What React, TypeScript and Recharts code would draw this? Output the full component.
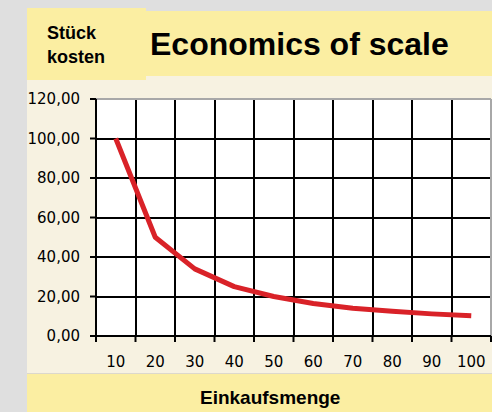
import { CartesianGrid, Line, LineChart, ReferenceLine, XAxis, YAxis } from 'recharts';

const quantities = [10, 20, 30, 40, 50, 60, 70, 80, 90, 100];
const unitCosts = [100, 50, 34, 25, 20, 16.5, 14, 12.5, 11.2, 10.3];
const yTicks = [0, 20, 40, 60, 80, 100, 120];
// Gitterlinien liegen zwischen den Kategorien
const gridTicks = [5, 15, 25, 35, 45, 55, 65, 75, 85, 95, 105];

const data = quantities.map((q, i) => ({ cost: unitCosts[i], q }));

const GRAY = '#dfdfdf';
const YELLOW = '#fbeea2';
const BEIGE = '#f7f2e1';
const RED = '#d92228';
const TICK_FONT = "'DejaVu Sans', sans-serif";
const LABEL_FONT = "'Liberation Sans', Arial, sans-serif";

const formatCost = (v: number): string => v.toFixed(2).replace('.', ',');

export default function App() {
  return (
    <div
      style={{
        background: GRAY,
        height: 412,
        left: 0,
        overflow: 'hidden',
        position: 'fixed',
        top: 0,
        width: 492,
      }}
    >
      {/* Plotbereich-Hintergrund */}
      <div style={{ background: BEIGE, height: 297, left: 27, position: 'absolute', top: 76, width: 465 }} />

      {/* Titelbalken */}
      <div style={{ background: YELLOW, height: 65, left: 146, position: 'absolute', top: 11, width: 346 }} />
      <div
        style={{
          color: '#000',
          fontFamily: LABEL_FONT,
          fontSize: 32,
          fontWeight: 700,
          left: 150,
          lineHeight: '32px',
          position: 'absolute',
          top: 28,
          whiteSpace: 'nowrap',
        }}
      >
        Economics of scale
      </div>

      {/* Achsentitel Y */}
      <div style={{ background: YELLOW, height: 72, left: 27, position: 'absolute', top: 8, width: 119 }} />
      <div
        style={{
          color: '#000',
          fontFamily: LABEL_FONT,
          fontSize: 18,
          fontWeight: 700,
          left: 47,
          lineHeight: '24px',
          position: 'absolute',
          top: 21,
        }}
      >
        Stück
        <br />
        kosten
      </div>

      {/* Fußzeile mit Achsentitel X */}
      <div
        style={{
          background: YELLOW,
          borderTop: '1px solid #dcd8cc',
          height: 38,
          left: 27,
          position: 'absolute',
          top: 373,
          width: 465,
        }}
      />
      <div
        style={{
          color: '#000',
          fontFamily: LABEL_FONT,
          fontSize: 19,
          fontWeight: 700,
          left: 200,
          lineHeight: '20px',
          position: 'absolute',
          top: 388,
          whiteSpace: 'nowrap',
        }}
      >
        Einkaufsmenge
      </div>

      <div style={{ left: 27, position: 'absolute', top: 76 }}>
        <LineChart data={data} height={297} margin={{ bottom: 0, left: 0, right: 1, top: 23 }} width={465}>
          <CartesianGrid
            fill="#ffffff"
            shapeRendering="crispEdges"
            stroke="#000"
            strokeWidth={2}
            xAxisId="grid"
          />
          <XAxis
            axisLine={{ stroke: '#000', strokeWidth: 2 }}
            dataKey="q"
            domain={[5, 105]}
            height={8}
            tickFormatter={() => ''}
            tickLine={{ stroke: '#000', strokeWidth: 2 }}
            tickSize={6}
            ticks={gridTicks}
            type="number"
            xAxisId="grid"
          />
          <XAxis
            axisLine={false}
            dataKey="q"
            domain={[5, 105]}
            height={29}
            tick={{ fill: '#000', fontFamily: TICK_FONT, fontSize: 15 }}
            tickLine={false}
            tickMargin={12}
            tickSize={0}
            ticks={quantities}
            type="number"
            xAxisId="lbl"
          />
          <YAxis
            axisLine={{ stroke: '#000', strokeWidth: 2 }}
            domain={[0, 120]}
            tick={{ fill: '#000', fontFamily: TICK_FONT, fontSize: 15 }}
            tickFormatter={formatCost}
            tickLine={{ stroke: '#000', strokeWidth: 2 }}
            tickMargin={10}
            tickSize={6}
            ticks={yTicks}
            type="number"
            width={69}
          />
          <ReferenceLine stroke="#a8a8a8" strokeWidth={2} xAxisId="grid" y={120} />
          <ReferenceLine stroke="#a8a8a8" strokeWidth={2} x={105} xAxisId="grid" />
          <Line
            dataKey="cost"
            dot={false}
            isAnimationActive={false}
            stroke={RED}
            strokeLinejoin="round"
            strokeWidth={5}
            type="linear"
            xAxisId="lbl"
          />
        </LineChart>
      </div>
    </div>
  );
}
